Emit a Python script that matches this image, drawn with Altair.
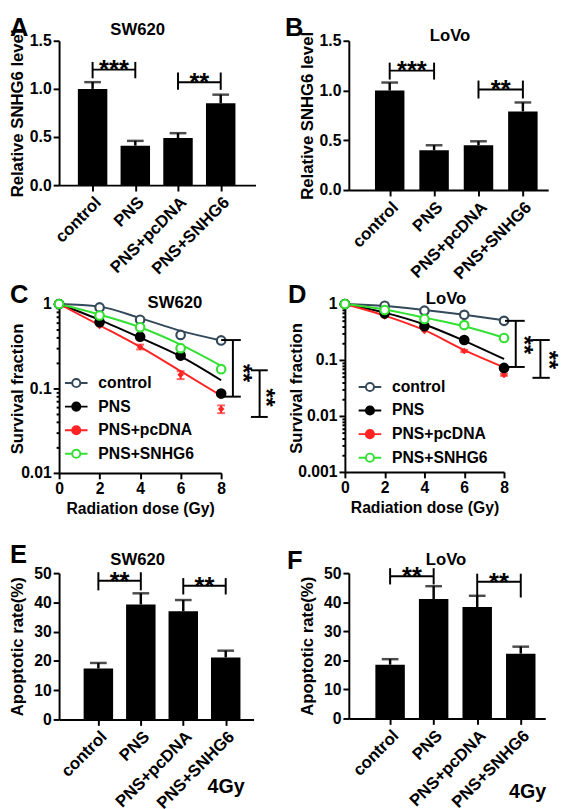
import json
import math
import altair as alt
import pandas as pd

FONT = "Liberation Sans"
SLATE = "#34495a"
RED = "#ff2424"
GREEN = "#33e033"

# ---------------- bar panels (A, B, E, F) ----------------
groups = ["control", "PNS", "PNS+pcDNA", "PNS+SNHG6"]
group_pos = [0, 1, 2, 3]
br_from = [0, 2]
br_to = [1, 3]

# A  SW620  relative SNHG6 level
a_mean = [1.00, 0.41, 0.49, 0.85]
a_err = [0.07, 0.05, 0.05, 0.09]
a_br_y = [1.20, 1.07]
a_br_lo = [1.11, 0.99]
a_br_hi = [1.28, 1.17]
a_br_text = ["***", "**"]

# B  LoVo  relative SNHG6 level
b_mean = [1.00, 0.40, 0.45, 0.79]
b_err = [0.08, 0.05, 0.04, 0.09]
b_br_y = [1.20, 1.01]
b_br_lo = [1.11, 0.92]
b_br_hi = [1.28, 1.10]
b_br_text = ["***", "**"]

# E  SW620  apoptotic rate
e_mean = [17.4, 39.3, 37.0, 21.2]
e_err = [1.9, 3.8, 3.8, 2.3]
e_br_y = [47.4, 45.7]
e_br_lo = [44.1, 42.7]
e_br_hi = [50.3, 48.3]
e_br_text = ["**", "**"]

# F  LoVo  apoptotic rate
f_mean = [18.5, 41.1, 38.3, 22.3]
f_err = [1.9, 4.4, 3.9, 2.4]
f_br_y = [48.9, 47.0]
f_br_lo = [46.1, 41.6]
f_br_hi = [51.7, 49.8]
f_br_text = ["**", "**"]

rel_ticks = [0.0, 0.5, 1.0, 1.5]
apo_ticks = [0.0, 10.0, 20.0, 30.0, 40.0, 50.0]

# ---------------- survival panels (C, D) ----------------
series = ["control", "PNS", "PNS+pcDNA", "PNS+SNHG6"]
series_stroke = [SLATE, "black", RED, GREEN]
series_fill = ["white", "black", RED, "white"]
doses = [0, 2, 4, 6, 8]

c_control = [1.0, 0.91, 0.65, 0.43, 0.37]
c_pns = [1.0, 0.61, 0.41, 0.245, 0.087]
c_pcdna = [1.0, 0.55, 0.31, 0.145, 0.057]
c_snhg6 = [1.0, 0.73, 0.53, 0.30, 0.169]
c_fit_control = [1.0, 0.93, 0.68, 0.48, 0.37]
c_fit_pns = [1.0, 0.65, 0.40, 0.24, 0.125]
c_fit_pcdna = [1.0, 0.56, 0.31, 0.16, 0.082]
c_fit_snhg6 = [1.0, 0.75, 0.53, 0.33, 0.185]
c_err_dose = [4, 6, 8]
c_err_lo = [0.29, 0.129, 0.051]
c_err_hi = [0.33, 0.160, 0.063]
c_br_x = [8.58, 9.90]
c_br_cx1 = [8.0, 9.47]
c_br_cx2 = [8.97, 10.3]
c_br_top = [0.374, 0.164]
c_br_bot = [0.080, 0.046]
c_br_tx = [9.02, 10.15]
c_br_ty = [0.152, 0.078]

d_control = [1.0, 0.93, 0.76, 0.64, 0.50]
d_pns = [1.0, 0.68, 0.40, 0.227, 0.072]
d_pcdna = [1.0, 0.60, 0.33, 0.145, 0.054]
d_snhg6 = [1.0, 0.78, 0.54, 0.42, 0.247]
d_fit_control = [1.0, 0.92, 0.78, 0.64, 0.51]
d_fit_pns = [1.0, 0.70, 0.43, 0.22, 0.104]
d_fit_pcdna = [1.0, 0.62, 0.34, 0.15, 0.074]
d_fit_snhg6 = [1.0, 0.80, 0.57, 0.40, 0.25]
d_err_dose = [6, 8]
d_err_lo = [0.138, 0.052]
d_err_hi = [0.152, 0.057]
d_br_x = [8.59, 9.83]
d_br_cx1 = [8.05, 9.43]
d_br_cx2 = [9.04, 10.3]
d_br_top = [0.50, 0.227]
d_br_bot = [0.075, 0.048]
d_br_tx = [8.94, 10.2]
d_br_ty = [0.185, 0.10]

LEGEND_PATH = ("M-1,0L-0.36,0M0.36,0L1,0"
               "M0.36,0A0.36,0.36,0,1,1,-0.36,0A0.36,0.36,0,1,1,0.36,0Z")


def label_layer(text, x, y, size, align="left", baseline="alphabetic"):
    return alt.Chart(pd.DataFrame({"t": [text]})).mark_text(
        align=align, baseline=baseline, font=FONT, fontWeight="bold",
        fontSize=size, color="black"
    ).encode(x=alt.value(x), y=alt.value(y), text="t:N")


def bar_panel(mean, err, br_y, br_lo, br_hi, br_text, ydom, yvals, yfmt, ytitle,
              xdom, w, h, letter, lpos, title, tpos, gy=None):
    df = pd.DataFrame({"pos": group_pos, "group": groups, "mean": mean, "err": err})
    df["top"] = df["mean"] + df["err"]
    br = pd.DataFrame({"x1": br_from, "x2": br_to, "y": br_y, "lo": br_lo,
                       "hi": br_hi, "t": br_text})
    xs = alt.Scale(domain=xdom, nice=False, zero=False)
    ys = alt.Scale(domain=ydom, nice=False)
    xaxis = alt.Axis(values=group_pos, labelExpr=json.dumps(groups) + "[datum.value]",
                     labelAngle=-45, labelAlign="right", labelBaseline="top",
                     labelPadding=3, labelFontSize=17, title=None, labelOverlap=False)
    yaxis = alt.Axis(values=yvals, tickCount=len(yvals), format=yfmt, title=ytitle,
                     titleX=-33, labelOverlap=False, labelSeparation=0)
    base = alt.Chart(df)
    bars = base.mark_bar(size=30, color="black").encode(
        x=alt.X("pos:Q", scale=xs, axis=xaxis),
        y=alt.Y("mean:Q", scale=ys, axis=yaxis),
        y2=alt.datum(0),
    )
    ebar = base.mark_rule(color="black", strokeWidth=2.5).encode(
        x="pos:Q", y="mean:Q", y2="top:Q")
    ecap = base.mark_tick(orient="horizontal", color="black", size=17,
                          thickness=2.5).encode(x="pos:Q", y="top:Q")
    bb = alt.Chart(br)
    hline = bb.mark_rule(color="black", strokeWidth=2).encode(
        x="x1:Q", x2="x2:Q", y="y:Q")
    cap1 = bb.mark_rule(color="black", strokeWidth=2).encode(
        x="x1:Q", y="lo:Q", y2="hi:Q")
    cap2 = bb.mark_rule(color="black", strokeWidth=2).encode(
        x="x2:Q", y="lo:Q", y2="hi:Q")
    stars = bb.transform_calculate(mid="(datum.x1 + datum.x2) / 2").mark_text(
        font=FONT, fontWeight="bold", fontSize=26, baseline="alphabetic", dy=9,
        color="black").encode(x="mid:Q", y="y:Q", text="t:N")
    layers = [bars, ebar, ecap, hline, cap1, cap2, stars,
              label_layer(letter, lpos[0], lpos[1], 26, baseline="top"),
              label_layer(title, tpos[0], tpos[1], 17, "center")]
    if gy is not None:
        layers.append(label_layer("4Gy", gy[0], gy[1], 20, "center"))
    return alt.layer(*layers).properties(width=w, height=h)


def survival_panel(pts, fits, err_dose, err_lo, err_hi, bx, cx1, cx2, btop, bbot,
                   tx, ty, ydom, w, h, letter, lpos, title, tpos, legxy, title_x):
    prow, frow = [], []
    for s, pv, fv in zip(series, pts, fits):
        for d, p, f in zip(doses, pv, fv):
            prow.append({"series": s, "dose": d, "value": p})
            frow.append({"series": s, "dose": d, "value": f})
    pdf = pd.DataFrame(prow)
    fdf = pd.DataFrame(frow)
    edf = pd.DataFrame({"dose": err_dose, "lo": err_lo, "hi": err_hi})
    bdf = pd.DataFrame({"bx": bx, "cx1": cx1, "cx2": cx2, "top": btop,
                        "bot": bbot, "tx": tx, "ty": ty, "t": ["**", "**"]})

    lo_exp = round(math.log10(ydom[0]))
    majors = [round(10.0 ** k, 6) for k in range(lo_exp, 1)]
    tick_vals = sorted({round(m * 10.0 ** k, 6) for k in range(lo_exp, 0)
                        for m in range(1, 10)} | {1.0})
    is_major = "indexof(" + json.dumps(majors) + ", datum.value) >= 0"

    xs = alt.Scale(domain=[0, 8], nice=False, zero=False)
    ys = alt.Scale(type="log", domain=ydom, nice=False)
    xaxis = alt.Axis(values=doses, title="Radiation dose (Gy)", titleFontSize=16,
                     titlePadding=4)
    yaxis = alt.Axis(values=tick_vals, format="~g", labelOverlap=False,
                     labelExpr=is_major + " ? datum.label : ''",
                     tickSize={"condition": {"test": is_major, "value": 6}, "value": 3},
                     title="Survival fraction", titleX=title_x)
    stroke_scale = alt.Scale(domain=series, range=series_stroke)
    fill_scale = alt.Scale(domain=series, range=series_fill)
    leg = alt.Legend(orient="none", legendX=legxy[0], legendY=legxy[1], title=None,
                     symbolType=LEGEND_PATH, symbolSize=529, symbolStrokeWidth=2,
                     labelFont=FONT, labelFontSize=16, labelFontWeight="bold",
                     labelColor="black", labelOffset=10, rowPadding=3, padding=0)

    line_layers = []
    for i, (s, col) in enumerate(zip(series, series_stroke)):
        enc = {"x": alt.X("dose:Q", scale=xs, axis=xaxis),
               "y": alt.Y("value:Q", scale=ys, axis=yaxis)} if i == 0 else \
              {"x": "dose:Q", "y": "value:Q"}
        line_layers.append(
            alt.Chart(fdf).transform_filter(alt.datum.series == s).mark_line(
                strokeWidth=2, interpolate="monotone", color=col).encode(**enc))
    eb = alt.Chart(edf)
    erule = eb.mark_rule(color=RED, strokeWidth=2).encode(
        x="dose:Q", y="lo:Q", y2="hi:Q")
    ecap_lo = eb.mark_tick(orient="horizontal", color=RED, size=8, thickness=2).encode(
        x="dose:Q", y="lo:Q")
    ecap_hi = eb.mark_tick(orient="horizontal", color=RED, size=8, thickness=2).encode(
        x="dose:Q", y="hi:Q")
    red_pts = alt.Chart(pdf).transform_filter("datum.series === 'PNS+pcDNA'").mark_point(
        shape="diamond", filled=True, color=RED, size=45, opacity=1).encode(
        x="dose:Q", y="value:Q")
    pts_layer = alt.Chart(pdf).transform_filter("datum.series !== 'PNS+pcDNA'").mark_point(
        filled=True, opacity=1, strokeWidth=2.2, size=75).encode(
        x="dose:Q", y="value:Q",
        color=alt.Color("series:N", scale=fill_scale, legend=leg),
        stroke=alt.Stroke("series:N", scale=stroke_scale, legend=leg),
    )
    bb = alt.Chart(bdf)
    vrule = bb.mark_rule(color="black", strokeWidth=2).encode(
        x="bx:Q", y="top:Q", y2="bot:Q")
    capt = bb.mark_rule(color="black", strokeWidth=2).encode(
        x="cx1:Q", x2="cx2:Q", y="top:Q")
    capb = bb.mark_rule(color="black", strokeWidth=2).encode(
        x="cx1:Q", x2="cx2:Q", y="bot:Q")
    stars = bb.mark_text(font=FONT, fontWeight="bold", fontSize=24, angle=90,
                         align="center", baseline="middle", color="black").encode(
        x="tx:Q", y="ty:Q", text="t:N")
    layers = line_layers + [erule, ecap_lo, ecap_hi, red_pts, pts_layer, vrule, capt,
                            capb, stars,
                            label_layer(letter, lpos[0], lpos[1], 26, baseline="top"),
                            label_layer(title, tpos[0], tpos[1], 17, "center")]
    return alt.layer(*layers).properties(width=w, height=h)


pA = bar_panel(a_mean, a_err, a_br_y, a_br_lo, a_br_hi, a_br_text, [0, 1.5],
               rel_ticks, ".1f", "Relative SNHG6 level", [-0.67, 3.7],
               200, 147, "A", (-50, -26), "SW620", (80, -6))
pB = bar_panel(b_mean, b_err, b_br_y, b_br_lo, b_br_hi, b_br_text, [0, 1.5],
               rel_ticks, ".1f", "Relative SNHG6 level", [-0.81, 3.46],
               203, 152, "B", (-65, -26), "LoVo", (103, 0))
pC = survival_panel([c_control, c_pns, c_pcdna, c_snhg6],
                    [c_fit_control, c_fit_pns, c_fit_pcdna, c_fit_snhg6],
                    c_err_dose, c_err_lo, c_err_hi, c_br_x, c_br_cx1, c_br_cx2,
                    c_br_top, c_br_bot, c_br_tx, c_br_ty, [0.01, 1], 165, 172,
                    "C", (-50, -22), "SW620", (118, 4), (5, 68), -33)
pD = survival_panel([d_control, d_pns, d_pcdna, d_snhg6],
                    [d_fit_control, d_fit_pns, d_fit_pcdna, d_fit_snhg6],
                    d_err_dose, d_err_lo, d_err_hi, d_br_x, d_br_cx1, d_br_cx2,
                    d_br_top, d_br_bot, d_br_tx, d_br_ty, [0.001, 1], 162, 171,
                    "D", (-58, -22), "LoVo", (103, 0), (13, 72), -40)
pE = bar_panel(e_mean, e_err, e_br_y, e_br_lo, e_br_hi, e_br_text, [0, 50],
               apo_ticks, "d", "Apoptotic rate(%)", [-0.81, 3.54],
               198, 149, "E", (-50, -31), "SW620", (80, -8), gy=(170, 224))
pF = bar_panel(f_mean, f_err, f_br_y, f_br_lo, f_br_hi, f_br_text, [0, 50],
               apo_ticks, "d", "Apoptotic rate(%)", [-0.835, 3.45],
               200, 148, "F", (-63, -25), "LoVo", (99, -8), gy=(182, 229))

row1 = alt.hconcat(pA, pB, spacing=95, bounds="flush")
row2 = alt.hconcat(pC, pD, spacing=126, bounds="flush").resolve_scale(
    color="independent", stroke="independent")
row3 = alt.hconcat(pE, pF, spacing=97, bounds="flush")
lower = alt.vconcat(row2, row3, spacing=27)

chart = alt.vconcat(row1, lower, spacing=0).properties(
    padding=0
).configure_view(stroke=None).configure_axis(
    domainColor="black", domainWidth=2, tickColor="black", tickWidth=2, tickSize=6,
    labelColor="black", labelFont=FONT, labelFontWeight="bold", labelFontSize=16,
    titleColor="black", titleFont=FONT, titleFontWeight="bold", titleFontSize=17,
    grid=False, labelFlush=False, labelPadding=2, labelOverlap=False
)

chart.save("out.html", embed_options={"renderer": "svg", "actions": False})
